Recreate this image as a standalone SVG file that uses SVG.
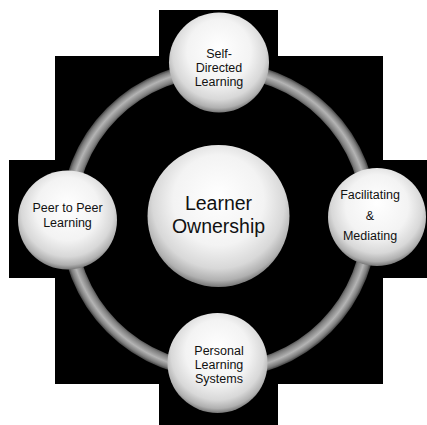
<svg xmlns="http://www.w3.org/2000/svg" width="427" height="425" viewBox="0 0 427 425">
  <defs>
    <radialGradient id="sphere" cx="50%" cy="42%" r="58%" fx="50%" fy="35%">
      <stop offset="0" stop-color="#ffffff"/>
      <stop offset="0.55" stop-color="#f3f3f3"/>
      <stop offset="0.8" stop-color="#d8d8d8"/>
      <stop offset="0.93" stop-color="#b0b0b0"/>
      <stop offset="1" stop-color="#777777"/>
    </radialGradient>
    <radialGradient id="tube" gradientUnits="userSpaceOnUse" cx="219" cy="220" r="159">
      <stop offset="0.89" stop-color="#333333"/>
      <stop offset="0.915" stop-color="#7e7e7e"/>
      <stop offset="0.95" stop-color="#b4b4b4"/>
      <stop offset="0.98" stop-color="#7a7a7a"/>
      <stop offset="1" stop-color="#333333"/>
    </radialGradient>
  </defs>
  <style>
    .bg { fill: #000000; }
    .ball { fill: url(#sphere); }
    .lbl { font-family: "Liberation Sans", Arial, sans-serif; font-size: 12.5px; fill: #111111; text-anchor: middle; }
    .big { font-family: "Liberation Sans", Arial, sans-serif; font-size: 19.5px; fill: #111111; text-anchor: middle; }
  </style>
  <rect width="427" height="425" fill="#ffffff"/>
  <g id="backdrop">
    <rect class="bg" x="55" y="56" width="328" height="328"/>
    <rect class="bg" x="159" y="10" width="119" height="118"/>
    <rect class="bg" x="9" y="160" width="119" height="118"/>
    <rect class="bg" x="308" y="160" width="119" height="118"/>
    <rect class="bg" x="159" y="306" width="119" height="119"/>
  </g>
  <g id="connectors">
    <circle cx="219" cy="220" r="151" fill="none" stroke="url(#tube)" stroke-width="15"/>
  </g>
  <g id="center">
    <circle class="ball" cx="218.5" cy="216" r="71"/>
    <text class="big" x="218.5" y="210">Learner</text>
    <text class="big" x="218.5" y="233">Ownership</text>
  </g>
  <g id="top">
    <circle class="ball" cx="219" cy="62.5" r="50"/>
    <text class="lbl" x="219" y="58">Self-</text>
    <text class="lbl" x="219" y="72">Directed</text>
    <text class="lbl" x="219" y="86">Learning</text>
  </g>
  <g id="left">
    <circle class="ball" cx="67.5" cy="220" r="49.5"/>
    <text class="lbl" x="67.5" y="212">Peer to Peer</text>
    <text class="lbl" x="67.5" y="227">Learning</text>
  </g>
  <g id="right">
    <circle class="ball" cx="377" cy="217" r="49"/>
    <text class="lbl" x="370" y="199">Facilitating</text>
    <text class="lbl" x="370" y="220">&amp;</text>
    <text class="lbl" x="370" y="240">Mediating</text>
  </g>
  <g id="bottom">
    <circle class="ball" cx="217.5" cy="363" r="50"/>
    <text class="lbl" x="219" y="355">Personal</text>
    <text class="lbl" x="219" y="369">Learning</text>
    <text class="lbl" x="219" y="383">Systems</text>
  </g>
</svg>
